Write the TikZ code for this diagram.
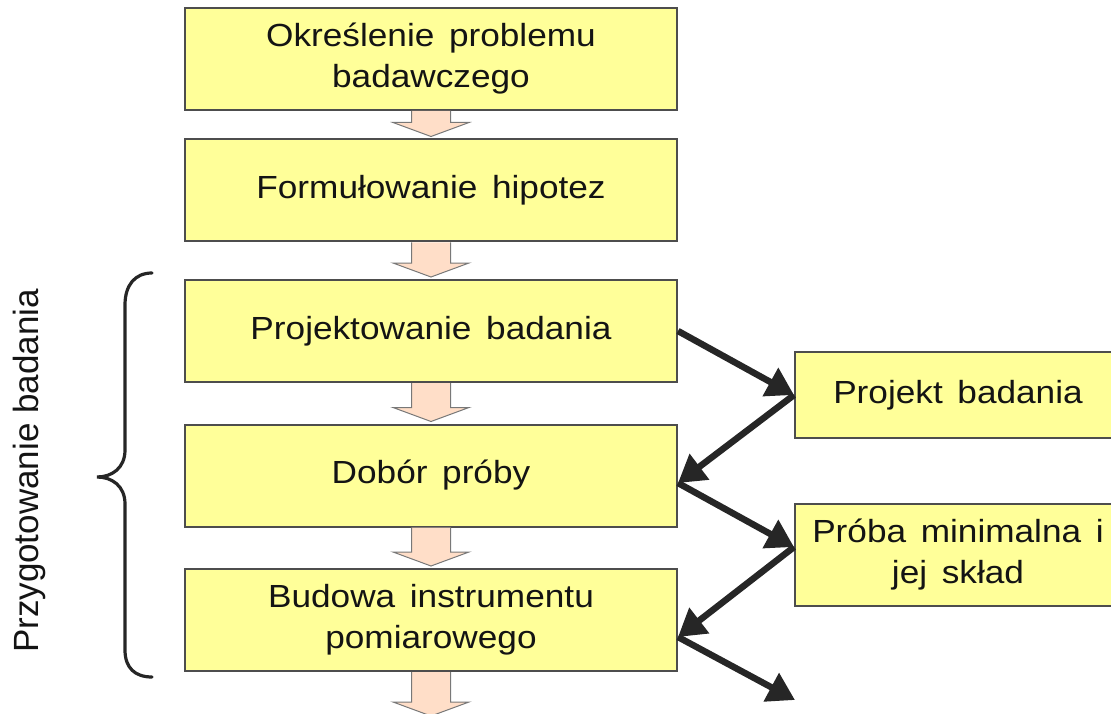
\documentclass[tikz,border=0pt]{standalone}
\usepackage{fontspec}
\setmainfont{Liberation Sans}
\newfontfamily\boxfont{Liberation Sans}[FakeStretch=1.1, WordSpace=1.5]
\usetikzlibrary{arrows.meta,calc}
\definecolor{boxfill}{RGB}{255,255,153}
\definecolor{boxline}{RGB}{77,77,77}
\definecolor{peach}{RGB}{255,222,200}
\definecolor{peachline}{RGB}{120,120,120}
\definecolor{ink}{RGB}{38,38,38}
\newcommand\blockarr[2]{%
  \draw[barrow] let \p1=#1, \p2=#2 in
    (\x1-19.5pt,\y1) -- (\x1-19.5pt,\y2+14pt) -- (\x1-38pt,\y2+14pt)
    -- (\x1,\y2) -- (\x1+38pt,\y2+14pt) -- (\x1+19.5pt,\y2+14pt) -- (\x1+19.5pt,\y1);}
\begin{document}
\begin{tikzpicture}[x=1pt,y=-1pt,
  stepbox/.style={draw=boxline,line width=2pt,fill=boxfill,
    minimum width=492pt,minimum height=102pt,inner sep=0pt,
    align=center,font=\boxfont\fontsize{32}{41}\selectfont,text=black!92},
  outbox/.style={stepbox,minimum width=326pt},
  barrow/.style={draw=peachline,line width=1pt,fill=peach,line join=miter},
  flow/.style={draw=ink,line width=6.5pt,-{Triangle[length=27pt,width=31pt]}}]
\useasboundingbox (0,0) rectangle (1111,714);

% main sequence of steps
\node[stepbox] (b1) at (431,59)    {Określenie problemu\\badawczego};
\node[stepbox] (b2) at (431,190.5) {Formułowanie hipotez};
\node[stepbox] (b3) at (431,331)   {Projektowanie badania};
\node[stepbox] (b4) at (431,475.5) {Dobór próby};
\node[stepbox] (b5) at (431,620)   {Budowa instrumentu\\pomiarowego};

% outputs on the right
\node[outbox,minimum height=86pt] (pa) at (958,395) {Projekt badania};
\node[outbox] (pb) at (958,555) {Próba minimalna i\\jej skład};

% block arrows between steps
\coordinate (tail) at (431,716);
\blockarr{(b1.south)}{([yshift=2pt]b2.north)}
\blockarr{(b2.south)}{([yshift=2pt]b3.north)}
\blockarr{(b3.south)}{([yshift=2pt]b4.north)}
\blockarr{(b4.south)}{([yshift=2pt]b5.north)}
\blockarr{(b5.south)}{(tail)}

% zig-zag of products
\coordinate (p1) at (b3.east);
\coordinate (p2) at (pa.west);
\coordinate (p3) at ([yshift=-7.5pt]b4.east);
\coordinate (p4) at ([yshift=8pt]pb.west);
\coordinate (p5) at ([yshift=-17pt]b5.east);
\coordinate (p6) at (795,700);
\draw[flow] (p1) -- (p2);
\draw[flow] (p2) -- (p3);
\draw[flow] (p3) -- (p4);
\draw[flow] (p4) -- (p5);
\draw[flow] (p5) -- (p6);

% brace grouping the preparation phase
\draw[ink,line width=3.2pt,line cap=round]
  (152,273) .. controls (135,273) and (125,285) .. (125,305) -- (125,450)
  .. controls (125,468) and (112,477) .. (97,477)
  .. controls (112,477) and (125,486) .. (125,504) -- (125,650)
  .. controls (125,668) and (135,677) .. (152,677);
\node[rotate=90,font=\fontsize{35}{40}\selectfont,text=black!92] (lbl) at (29,471) {Przygotowanie badania};
\end{tikzpicture}
\end{document}
